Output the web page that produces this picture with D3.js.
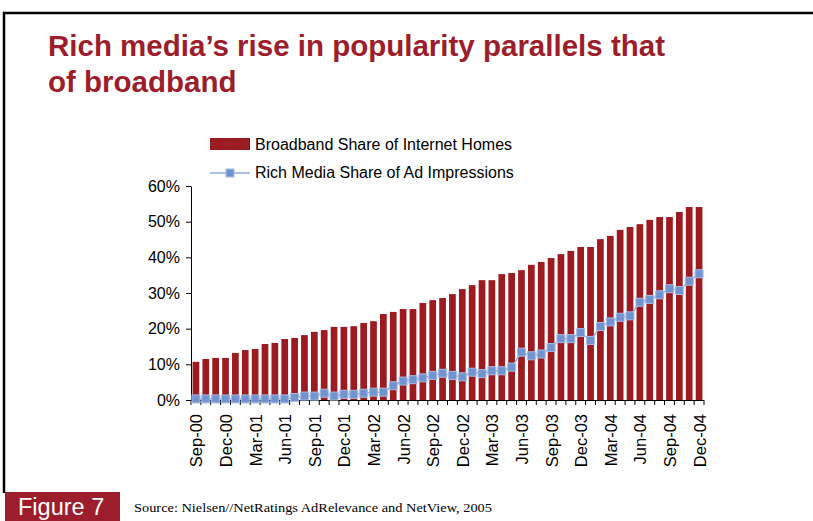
<!DOCTYPE html>
<html><head><meta charset="utf-8">
<script src="https://cdn.jsdelivr.net/npm/d3@7"></script>
<style>body{margin:0;background:#fff}svg{display:block}</style>
</head><body>
<svg id="c" width="813" height="521"></svg>
<script>
const months = ["Sep-00","Oct-00","Nov-00","Dec-00","Jan-01","Feb-01","Mar-01","Apr-01","May-01","Jun-01","Jul-01","Aug-01",
"Sep-01","Oct-01","Nov-01","Dec-01","Jan-02","Feb-02","Mar-02","Apr-02","May-02","Jun-02","Jul-02","Aug-02",
"Sep-02","Oct-02","Nov-02","Dec-02","Jan-03","Feb-03","Mar-03","Apr-03","May-03","Jun-03","Jul-03","Aug-03",
"Sep-03","Oct-03","Nov-03","Dec-03","Jan-04","Feb-04","Mar-04","Apr-04","May-04","Jun-04","Jul-04","Aug-04",
"Sep-04","Oct-04","Nov-04","Dec-04"];
const broadband = [10.7,11.5,11.8,11.8,13.2,14.0,14.3,15.7,16.0,17.1,17.4,18.2,
19.1,19.6,20.5,20.5,20.7,21.6,22.1,24.1,24.7,25.5,25.5,27.2,
28.0,28.6,29.7,31.1,32.2,33.6,33.6,35.3,35.6,36.4,37.9,38.7,
39.8,40.9,41.8,42.9,42.9,45.1,46.0,47.7,48.5,49.3,50.5,51.3,
51.3,52.7,54.1,54.1];
const richMedia = [0.3,0.3,0.3,0.3,0.3,0.3,0.3,0.3,0.3,0.3,0.7,1.1,
1.1,1.9,1.1,1.6,1.6,1.9,2.2,2.2,4.0,5.3,5.7,6.2,
6.9,7.5,6.9,6.5,7.8,7.4,8.2,8.2,9.2,13.4,12.4,12.9,
14.7,17.2,17.2,18.9,16.7,20.6,21.9,23.2,23.6,27.4,28.2,29.5,
31.2,30.7,33.3,35.4];
const yTicks = [0,10,20,30,40,50,60];
const tickLabels = months.filter((m,i)=>i%3===0);
const seriesNames = ["Broadband Share of Internet Homes","Rich Media Share of Ad Impressions"];

const svg = d3.select("#c");
const red = "#9b1b20", titleRed = "#9c1d2b", blue = "#7193cf";
const sans = "Liberation Sans, Arial, sans-serif";

// frame
svg.append("path").attr("d","M4,493 V13 H813").attr("fill","none").attr("stroke","#000").attr("stroke-width",2.5);

// title
const title = svg.append("text").attr("font-family",sans)
  .attr("font-weight","bold").attr("font-size",29.5).attr("fill",titleRed);
title.append("tspan").attr("x",48).attr("y",56).text("Rich media\u2019s rise in popularity parallels that");
title.append("tspan").attr("x",48).attr("y",92).text("of broadband");

const x = d3.scaleBand().domain(months).range([191,704]).paddingInner(0.32).paddingOuter(0.16);
const y = d3.scaleLinear().domain([0,60]).range([400,186]);

// bars
svg.append("g").selectAll("rect").data(broadband).join("rect")
  .attr("x",(d,i)=>x(months[i])).attr("width",x.bandwidth())
  .attr("y",d=>y(d)).attr("height",d=>y(0)-y(d)).attr("fill",red);

// y axis
const yAxis = svg.append("g").attr("transform","translate(191,0)")
  .call(d3.axisLeft(y).tickValues(yTicks).tickFormat(d=>d+"%").tickSize(5).tickSizeOuter(0));
yAxis.select(".domain").attr("stroke","#000");
yAxis.selectAll("text").attr("font-family",sans).attr("font-size",16).attr("fill","#000").attr("x",-11);

// x axis
const xStep = x.step();
const xAxisG = svg.append("g");
xAxisG.append("line").attr("x1",191).attr("x2",704).attr("y1",400.5).attr("y2",400.5).attr("stroke","#000");
const bounds = d3.range(months.length+1).map(i=> x(months[Math.min(i,months.length-1)]) - x.paddingInner()*xStep/2 + (i===months.length? xStep:0));
xAxisG.selectAll("line.t").data(bounds).join("line").attr("class","t")
  .attr("x1",d=>d).attr("x2",d=>d).attr("y1",400).attr("y2",405).attr("stroke","#000");
xAxisG.selectAll("text").data(tickLabels).join("text")
  .attr("transform",d=>`translate(${x(d)+x.bandwidth()/2+6.5},414) rotate(-90)`)
  .attr("text-anchor","end").attr("font-family",sans).attr("font-size",16.5).text(d=>d);

// line
const line = d3.line().x((d,i)=>x(months[i])+x.bandwidth()/2).y(d=>y(d));
svg.append("path").datum(richMedia).attr("d",line).attr("fill","none").attr("stroke","#94acd9").attr("stroke-width",1.5);
svg.append("g").selectAll("rect").data(richMedia).join("rect")
  .attr("x",(d,i)=>x(months[i])+x.bandwidth()/2-4).attr("y",d=>y(d)-4)
  .attr("width",8).attr("height",8).attr("fill",blue).attr("stroke","#a8bce4").attr("stroke-width",1);

// legend
const lg = svg.append("g").attr("font-family",sans).attr("font-size",16);
lg.append("rect").attr("x",210).attr("y",138).attr("width",40).attr("height",12).attr("fill",red);
lg.append("text").attr("x",255).attr("y",150).text(seriesNames[0]);
lg.append("line").attr("x1",210).attr("x2",250).attr("y1",173).attr("y2",173).attr("stroke","#94acd9").attr("stroke-width",1.5);
lg.append("rect").attr("x",226).attr("y",169).attr("width",8).attr("height",8).attr("fill",blue).attr("stroke","#a8bce4");
lg.append("text").attr("x",255).attr("y",178).text(seriesNames[1]);

// footer
svg.append("rect").attr("x",5).attr("y",492).attr("width",115).attr("height",29).attr("fill",titleRed);
svg.append("text").attr("x",18).attr("y",515).attr("fill","#fff").attr("font-family",sans)
  .attr("font-size",23.5).text("Figure 7");
svg.append("text").attr("x",134).attr("y",512).attr("fill","#000").attr("font-family","Liberation Serif, Times New Roman, serif")
  .attr("font-size",13).attr("textLength",358).attr("lengthAdjust","spacingAndGlyphs")
  .text("Source: Nielsen//NetRatings AdRelevance and NetView, 2005");
</script>
</body></html>
